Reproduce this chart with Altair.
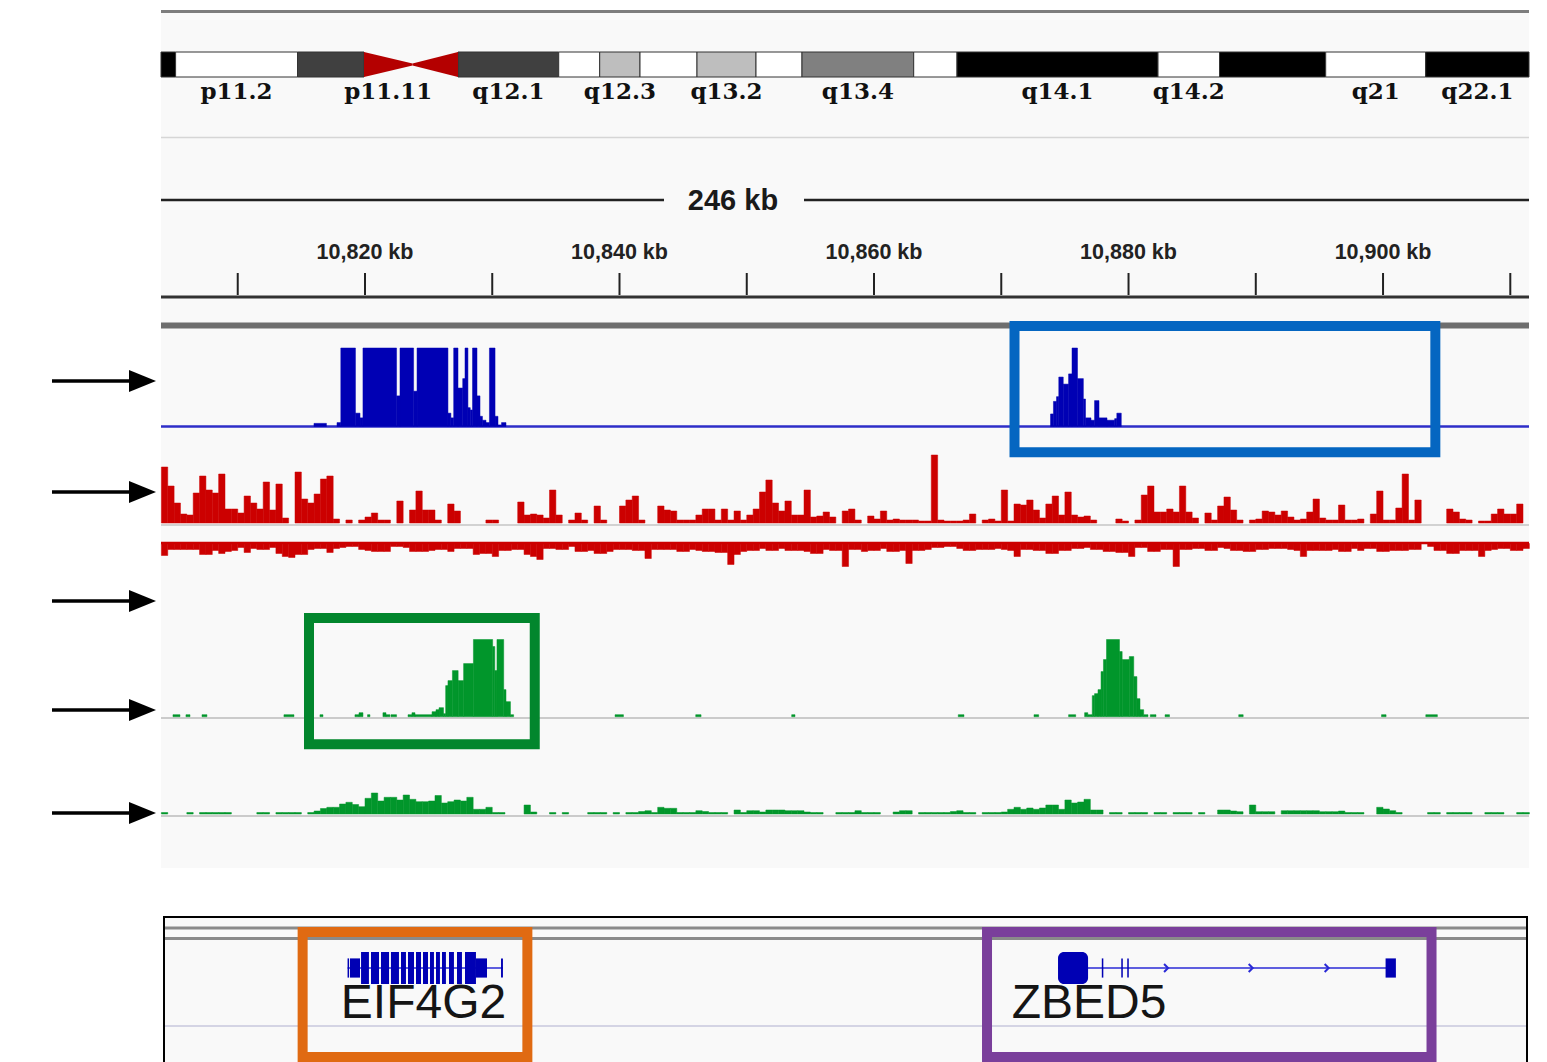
import altair as alt
import pandas as pd

W, H = 1547, 1062
PX0, PX1 = 161, 1529                 # pixel span of the data panel
KB0, KB1 = 10803.97, 10911.47        # genomic window shown (kb)

# ---------------- ideogram (cytobands, Mb along displayed part) ----------------
cyto_start = [0.00, 1.46, 13.65, 20.30, 25.15, 29.70, 39.77, 43.87, 47.90, 53.60, 59.50, 64.10, 75.27, 79.60, 99.70, 105.85, 116.47, 126.47]
cyto_end   = [1.46, 13.65, 20.30, 25.15, 29.70, 39.77, 43.87, 47.90, 53.60, 59.50, 64.10, 75.27, 79.60, 99.70, 105.85, 116.47, 126.47, 136.80]
cyto_stain = ["gpos100", "gneg", "gpos75", "acen", "acen", "gpos75", "gneg", "gpos25", "gneg", "gpos25",
              "gneg", "gpos50", "gneg", "gpos100", "gneg", "gpos100", "gneg", "gpos100"]
cyto_name  = ["", "p11.2", "", "p11.11", "", "q12.1", "", "q12.3", "", "q13.2",
              "", "q13.4", "", "q14.1", "q14.2", "", "q21", "q22.1"]
stain_levels = ["gneg", "gpos25", "gpos50", "gpos75", "gpos100"]
stain_colors = ["#ffffff", "#bebebe", "#808080", "#404040", "#000000"]

# ---------------- ruler ----------------
ruler_tick_kb = [10810, 10820, 10830, 10840, 10850, 10860, 10870, 10880, 10890, 10900, 10910]
ruler_label_kb = [10820, 10840, 10860, 10880, 10900]
ruler_label_txt = ["10,820 kb", "10,840 kb", "10,860 kb", "10,880 kb", "10,900 kb"]
span_label = "246 kb"

# ---------------- blue track (segments, % of track range) ----------------
blue_start = [10815.99, 10817.80, 10818.10, 10819.25, 10819.61, 10819.84, 10822.48, 10822.75, 10823.82, 10824.09,
              10826.52, 10826.75, 10826.97, 10827.31, 10827.68, 10827.86, 10828.09, 10828.27, 10828.45, 10828.80,
              10829.04, 10829.23, 10829.51, 10829.78, 10830.22, 10830.45, 10830.73,
              10873.87, 10874.10, 10874.34, 10874.52, 10874.87, 10875.29, 10875.56, 10875.99, 10876.45, 10876.62,
              10877.05, 10877.33, 10877.68, 10878.31, 10878.91, 10879.08]
blue_end   = [10816.97, 10818.10, 10819.25, 10819.61, 10819.84, 10822.48, 10822.75, 10823.82, 10824.09, 10826.52,
              10826.75, 10826.97, 10827.31, 10827.68, 10827.86, 10828.09, 10828.27, 10828.45, 10828.80, 10829.04,
              10829.23, 10829.51, 10829.78, 10830.22, 10830.45, 10830.73, 10831.08,
              10874.10, 10874.34, 10874.52, 10874.87, 10875.29, 10875.56, 10875.99, 10876.45, 10876.62, 10877.05,
              10877.33, 10877.68, 10878.31, 10878.91, 10879.08, 10879.43]
blue_val   = [4, 5, 100, 17, 11, 100, 39, 100, 45, 100,
              17, 11, 100, 49, 61, 100, 24, 21, 100, 39,
              13, 8, 5, 100, 13, 2, 5,
              16, 32, 38, 63, 54, 67, 100, 61, 35, 11,
              8, 33, 11, 8, 10, 17]

# ---------------- red tracks (0.5 kb bins from 10,804 kb) ----------------
BIN_START, BIN_W = 10804.0, 0.5
red_fwd = [56, 37, 20, 9, 8, 30, 47, 33, 30, 49,
           14, 14, 10, 27, 20, 14, 41, 13, 39, 5,
           0, 51, 24, 20, 29, 44, 47, 4, 0, 3,
           0, 3, 6, 10, 3, 3, 0, 22, 0, 13,
           32, 13, 13, 3, 0, 19, 12, 0, 0, 0,
           0, 3, 3, 0, 0, 0, 21, 8, 9, 8,
           5, 33, 8, 0, 3, 10, 3, 0, 17, 3,
           0, 0, 17, 23, 27, 3, 0, 0, 17, 13,
           12, 3, 3, 3, 8, 14, 14, 3, 14, 3,
           12, 3, 8, 14, 31, 43, 20, 12, 22, 8,
           8, 33, 6, 7, 11, 6, 0, 12, 14, 3,
           0, 7, 4, 12, 3, 4, 3, 3, 3, 2,
           2, 68, 3, 2, 2, 2, 3, 9, 0, 3,
           4, 2, 33, 2, 19, 18, 23, 13, 5, 19,
           27, 8, 31, 8, 6, 7, 3, 0, 0, 0,
           4, 2, 0, 3, 28, 37, 11, 11, 14, 11,
           37, 11, 5, 0, 10, 3, 17, 26, 13, 3,
           0, 3, 4, 12, 11, 8, 12, 6, 3, 4,
           11, 24, 5, 3, 3, 18, 3, 3, 4, 0,
           9, 32, 3, 3, 15, 49, 3, 23, 0, 0,
           0, 0, 14, 11, 4, 3, 0, 2, 2, 9,
           14, 9, 9, 19, 0]
red_rev = [12, 6, 6, 6, 6, 6, 11, 11, 7, 10,
           8, 7, 4, 9, 5, 6, 6, 4, 10, 13,
           14, 11, 11, 6, 5, 5, 9, 5, 4, 3,
           3, 6, 7, 8, 8, 8, 3, 3, 4, 8,
           8, 8, 7, 6, 6, 8, 5, 5, 5, 11,
           10, 10, 13, 7, 7, 6, 6, 11, 13, 16,
           5, 5, 6, 6, 3, 8, 8, 7, 10, 10,
           8, 6, 6, 6, 7, 7, 15, 6, 6, 6,
           6, 8, 8, 6, 7, 8, 8, 9, 9, 21,
           11, 8, 7, 7, 5, 7, 7, 5, 7, 7,
           7, 8, 10, 10, 6, 7, 7, 23, 6, 6,
           8, 7, 7, 5, 8, 8, 7, 20, 7, 7,
           6, 4, 4, 3, 3, 5, 7, 7, 6, 6,
           6, 5, 6, 7, 13, 6, 6, 7, 7, 10,
           10, 7, 7, 5, 5, 4, 6, 6, 8, 8,
           9, 9, 13, 4, 4, 8, 8, 6, 6, 23,
           6, 6, 5, 5, 7, 7, 4, 5, 7, 7,
           8, 8, 6, 6, 5, 5, 5, 6, 7, 13,
           7, 7, 7, 7, 6, 8, 8, 5, 7, 5,
           5, 8, 8, 7, 7, 7, 6, 6, 0, 3,
           7, 7, 10, 10, 7, 7, 7, 13, 7, 6,
           5, 5, 7, 7, 5]

# ---------------- green track 1 (segments) ----------------
green1_start = [10804.91, 10805.93, 10807.19, 10813.63, 10816.46, 10819.21, 10819.53, 10820.20, 10821.41, 10821.65,
                10822.04, 10823.38, 10823.69, 10823.93, 10825.27, 10825.58, 10825.82, 10826.17, 10826.34, 10826.52,
                10826.87, 10827.32, 10827.75, 10828.52, 10830.03, 10830.20, 10830.37, 10830.90, 10831.08, 10831.43,
                10839.65, 10845.99, 10853.53, 10866.62, 10872.57, 10875.29, 10876.55, 10876.80, 10877.15, 10877.33,
                10877.60, 10877.84, 10878.03, 10878.27, 10879.29, 10879.50, 10880.06, 10880.41, 10880.66, 10880.90,
                10881.19, 10881.71, 10882.87, 10888.66, 10899.88, 10903.36]
green1_end   = [10805.46, 10806.25, 10807.58, 10814.42, 10816.70, 10819.53, 10819.84, 10820.39, 10821.65, 10821.96,
                10822.48, 10823.69, 10823.93, 10825.27, 10825.58, 10825.82, 10826.17, 10826.34, 10826.52, 10826.87,
                10827.32, 10827.75, 10828.52, 10830.03, 10830.20, 10830.37, 10830.90, 10831.08, 10831.43, 10831.68,
                10840.31, 10846.41, 10853.79, 10867.07, 10872.94, 10875.85, 10876.80, 10877.15, 10877.33, 10877.60,
                10877.84, 10878.03, 10878.27, 10879.29, 10879.50, 10880.06, 10880.41, 10880.66, 10880.90, 10881.19,
                10881.53, 10882.16, 10883.22, 10889.01, 10900.24, 10904.27]
green1_val   = [2, 2, 2, 2, 2, 2, 4, 2, 4, 2,
                2, 2, 4, 2, 5, 7, 9, 3, 31, 36,
                46, 36, 53, 77, 70, 46, 77, 27, 15, 2,
                2, 2, 2, 2, 2, 2, 4, 2, 21, 23,
                27, 45, 57, 77, 65, 57, 60, 40, 18, 7,
                2, 2, 2, 2, 2, 2]

# ---------------- green track 2 (0.5 kb bins) ----------------
green2 = [1.5, 0, 0, 0, 1.5, 0, 1.5, 1.5, 1.5, 1.5,
          1.5, 0, 0, 0, 0, 1.5, 1.5, 0, 1.5, 1.5,
          1.5, 1.5, 0, 1.5, 3, 5.5, 6.7, 6.7, 10, 11.7,
          9.5, 7.3, 15.7, 21, 13, 16.7, 16.7, 14, 19, 14.7,
          12.3, 12.3, 13, 18.5, 11, 12.3, 14, 13, 16.7, 4.7,
          4.7, 6.7, 1.5, 1.5, 0, 0, 0, 9, 2, 0,
          0, 1.5, 0, 1.5, 0, 0, 0, 1.5, 1.5, 1.5,
          0, 1.5, 0, 1.5, 1.5, 2.5, 3.3, 1.5, 6.7, 5.7,
          5.7, 1.5, 1.5, 1.5, 3.3, 2.5, 1.5, 1.5, 1.5, 0,
          4, 1.5, 3.3, 3.3, 2, 4, 4, 4, 3.3, 3.3,
          3.3, 2, 1.5, 1.5, 0, 0, 1.5, 1.5, 1.5, 3.3,
          1.5, 1.5, 1.5, 0, 0, 2, 3.3, 3.3, 0, 1.5,
          1.5, 1.5, 1.5, 1.5, 2.5, 3.3, 1.5, 1.5, 0, 1.5,
          1.5, 1.5, 2, 4.7, 6.7, 4.7, 6, 4.7, 6, 9,
          9, 4.7, 14, 11, 12, 14.7, 4, 4, 0, 1.5,
          1.5, 0, 1.5, 1.5, 1.5, 0, 1.5, 1.5, 0, 1.5,
          1.5, 1.5, 0, 1.5, 0, 0, 4, 4, 3, 2.3,
          0, 9, 2.3, 2.3, 2.3, 0, 3.3, 3.3, 3.3, 3.3,
          3.3, 3.3, 2.3, 2.3, 2.3, 3, 1.5, 1.5, 1.5, 0,
          0, 6.7, 5, 3.3, 1.5, 0, 0, 0, 0, 1.5,
          1.5, 0, 1.5, 1.5, 1.5, 1.5, 0, 0, 1.5, 1.5,
          1.5, 0, 0, 1.5, 1.5]

# ---------------- genes ----------------
gene_name = ["EIF4G2", "ZBED5"]
gene_start = [10818.63, 10874.46]
gene_end = [10830.84, 10900.55]
gene_label_kb = [10824.60, 10876.90]
exon_start = [10818.63, 10818.82, 10819.69, 10820.47, 10821.26, 10822.04, 10822.83, 10823.38, 10824.01, 10824.56,
              10825.11, 10825.58, 10826.05, 10826.60, 10827.23, 10827.86, 10828.72, 10830.69,
              10874.46, 10877.90, 10879.43, 10879.90, 10900.20]
exon_end   = [10818.75, 10819.61, 10820.31, 10821.10, 10821.89, 10822.67, 10823.22, 10823.85, 10824.40, 10824.95,
              10825.42, 10825.89, 10826.36, 10826.99, 10827.62, 10828.72, 10829.59, 10830.84,
              10876.82, 10878.02, 10879.55, 10880.02, 10901.01]
exon_kind  = ["utr", "utr", "cds", "cds", "cds", "cds", "cds", "cds", "cds", "cds",
              "cds", "cds", "cds", "cds", "cds", "cds", "utr", "utr",
              "cds", "utr", "utr", "utr", "utr"]
strand_arrow_kb = [10882.95, 10889.60, 10895.57]

# ---------------- highlight boxes ----------------
box_start_kb = [10871.04, 10815.60, 10815.10, 10868.88]
box_end_kb = [10904.11, 10833.34, 10832.76, 10903.81]
box_color = ["#0566c1", "#02862d", "#e06a12", "#7a3f9b"]
box_rows = [(326, 452.3), (618, 744.3), (932, 1057), (932, 1057)]

arrow_rows = [381, 492, 601, 710, 813]

# ======================================================================
ONE = pd.DataFrame({"k": [0]})
xs = alt.Scale(domain=[KB0, KB1], range=[PX0, PX1], nice=False, zero=False)


def prect(x1, x2, y1, y2, **kw):
    return alt.Chart(ONE).mark_rect(**kw).encode(
        x=alt.value(x1), x2=alt.value(x2), y=alt.value(y1), y2=alt.value(y2))


def hline(y, x1, x2, color, w):
    return alt.Chart(ONE).mark_rule(color=color, strokeWidth=w).encode(
        x=alt.value(x1), x2=alt.value(x2), y=alt.value(y))


def seg_df(starts, ends, vals):
    df = pd.DataFrame({"start": starts, "end": ends, "v": vals})
    df["base"] = 0
    return df


def bins_df(vals):
    n = len(vals)
    df = pd.DataFrame({"start": [BIN_START + i * BIN_W for i in range(n)], "v": vals})
    df["end"] = df["start"] + BIN_W
    df["base"] = 0
    return df[df["v"] > 0]


def track(df, color, ybase, ytop, vmax):
    ys = alt.Scale(domain=[0, vmax], range=[ybase, ytop], nice=False, zero=False)
    return alt.Chart(df).mark_rect(color=color, stroke=color, strokeWidth=0.5).encode(
        x=alt.X("start:Q", scale=xs, axis=None), x2="end:Q",
        y=alt.Y("v:Q", scale=ys, axis=None), y2="base:Q")


layers = []
# backgrounds / frame lines
layers.append(prect(PX0, PX1, 13, 868, color="#f9f9f9"))
layers.append(hline(11.5, PX0, PX1, "#7d7d7d", 3))
layers.append(hline(137.5, PX0, PX1, "#d6d6d6", 1.5))

# ideogram
cyto = pd.DataFrame({"start": cyto_start, "end": cyto_end, "stain": cyto_stain, "name": cyto_name})
ix = alt.Scale(domain=[0, 136.8], range=[PX0, PX1], nice=False, zero=False)
layers.append(alt.Chart(cyto[cyto.stain != "acen"]).mark_rect(stroke="#333333", strokeWidth=1).encode(
    x=alt.X("start:Q", scale=ix, axis=None), x2="end:Q",
    y=alt.value(52), y2=alt.value(77),
    color=alt.Color("stain:N", scale=alt.Scale(domain=stain_levels, range=stain_colors), legend=None)))
acen = cyto[cyto.stain == "acen"].reset_index(drop=True)
cen_rows = []
for i, r in acen.iterrows():
    wide_first = (i == 0)
    cen_rows.append({"pos": r.start, "hi": 1.0 if wide_first else 0.54, "lo": 0.0 if wide_first else 0.46, "part": i})
    cen_rows.append({"pos": r.end, "hi": 0.54 if wide_first else 1.0, "lo": 0.46 if wide_first else 0.0, "part": i})
iy = alt.Scale(domain=[0, 1], range=[77, 52], nice=False, zero=False)
layers.append(alt.Chart(pd.DataFrame(cen_rows)).mark_area(color="#b40000").encode(
    x=alt.X("pos:Q", scale=ix, axis=None),
    y=alt.Y("hi:Q", scale=iy, axis=None), y2="lo:Q", detail="part:N"))
lab = cyto[cyto.name != ""].copy()
lab["mid"] = (lab.start + lab.end) / 2
layers.append(alt.Chart(lab).mark_text(font="DejaVu Serif", fontWeight="bold", fontSize=23,
                                       baseline="alphabetic", align="center", color="#111111").encode(
    x=alt.X("mid:Q", scale=ix, axis=None), y=alt.value(99), text="name:N"))

# ruler
layers.append(hline(200, PX0, 664, "#222222", 2.5))
layers.append(hline(200, 804, PX1, "#222222", 2.5))
layers.append(alt.Chart(pd.DataFrame({"t": [span_label]})).mark_text(
    font="Liberation Sans", fontWeight="bold", fontSize=29, baseline="middle", align="center",
    color="#1a1a1a").encode(x=alt.value(733), y=alt.value(201), text="t:N"))
layers.append(alt.Chart(pd.DataFrame({"kb": ruler_tick_kb})).mark_rule(color="#222222", strokeWidth=2).encode(
    x=alt.X("kb:Q", scale=xs, axis=None), y=alt.value(273), y2=alt.value(295)))
layers.append(alt.Chart(pd.DataFrame({"kb": ruler_label_kb, "t": ruler_label_txt})).mark_text(
    font="Liberation Sans", fontWeight="bold", fontSize=21.5, baseline="middle", align="center",
    color="#222222").encode(x=alt.X("kb:Q", scale=xs, axis=None), y=alt.value(253), text="t:N"))
layers.append(hline(297, PX0, PX1, "#333333", 3))
layers.append(hline(325.5, PX0, PX1, "#6e6e6e", 6))

# blue track
layers.append(hline(426.5, PX0, PX1, "#2e2ec8", 2.5))
layers.append(track(seg_df(blue_start, blue_end, blue_val), "#0000b4", 426.5, 348, 100))

# red tracks
layers.append(hline(525, PX0, PX1, "#d2d2d2", 2))
layers.append(track(bins_df(red_fwd), "#cc0000", 523, 455, 68))
layers.append(track(bins_df(red_rev), "#cc0000", 543.5, 567.5, 24))
layers.append(hline(543, PX0, PX1, "#cc0000", 2.5))

# green tracks
layers.append(hline(718, PX0, PX1, "#cbcbcb", 2))
layers.append(track(seg_df(green1_start, green1_end, green1_val), "#01962b", 716.7, 639.5, 77))
layers.append(hline(816, PX0, PX1, "#cbcbcb", 2))
layers.append(track(bins_df(green2), "#01962b", 814, 792.7, 21.3))

# gene panel
layers.append(prect(164, 1527, 917, 1075, color="#f9f9f9", stroke="#000000", strokeWidth=2))
layers.append(hline(928, 165, 1526, "#8a8a8a", 3))
layers.append(hline(938.5, 165, 1526, "#8a8a8a", 3))
layers.append(hline(1026, 165, 1526, "#d4d4e4", 2))

genes = pd.DataFrame({"name": gene_name, "start": gene_start, "end": gene_end, "label": gene_label_kb})
layers.append(alt.Chart(genes).mark_rule(color="#2a2ad6", strokeWidth=1.5).encode(
    x=alt.X("start:Q", scale=xs, axis=None), x2="end:Q", y=alt.value(968)))
ex = pd.DataFrame({"start": exon_start, "end": exon_end, "kind": exon_kind})
ex["half"] = ex["kind"].map({"cds": 1.0, "utr": 0.6})
ex["bot"] = -ex["half"]
ex["wide"] = (ex["end"] - ex["start"]) > 1.5
gy = alt.Scale(domain=[-1, 1], range=[984, 952], nice=False, zero=False)
for wide, rad in ((False, 0), (True, 6)):
    layers.append(alt.Chart(ex[ex.wide == wide]).mark_rect(color="#0000b4", cornerRadius=rad).encode(
        x=alt.X("start:Q", scale=xs, axis=None), x2="end:Q",
        y=alt.Y("half:Q", scale=gy, axis=None), y2="bot:Q"))
layers.append(alt.Chart(pd.DataFrame({"kb": strand_arrow_kb})).mark_point(
    shape="M-0.5,-1L0.5,0L-0.5,1", filled=False, strokeWidth=2, size=64, color="#2a2ad6", opacity=1).encode(
    x=alt.X("kb:Q", scale=xs, axis=None), y=alt.value(968)))
layers.append(alt.Chart(genes).mark_text(font="Liberation Sans", fontSize=48, baseline="alphabetic",
                                         align="center", color="#151515").encode(
    x=alt.X("label:Q", scale=xs, axis=None), y=alt.value(1018), text="name:N"))

# highlight boxes
for s, e, c, (y1, y2) in zip(box_start_kb, box_end_kb, box_color, box_rows):
    layers.append(alt.Chart(pd.DataFrame({"s": [s], "e": [e]})).mark_rect(
        fill=None, fillOpacity=0, stroke=c, strokeWidth=10).encode(
        x=alt.X("s:Q", scale=xs, axis=None), x2="e:Q", y=alt.value(y1), y2=alt.value(y2)))

# arrows pointing at tracks
for ay in arrow_rows:
    layers.append(hline(ay, 52, 132, "#000000", 3.5))
    layers.append(alt.Chart(ONE).mark_point(shape="M-1,-0.82L1,0L-1,0.82Z", filled=True, size=729,
                                            color="#000000", opacity=1).encode(
        x=alt.value(142.5), y=alt.value(ay)))

chart = alt.layer(*layers).resolve_scale(x="independent", y="independent", color="independent").properties(
    width=W, height=H, autosize=alt.AutoSizeParams(type="none"), padding=0, background="white"
).configure_view(stroke=None)

chart.save("out.html", embed_options={"renderer": "svg", "actions": False})
